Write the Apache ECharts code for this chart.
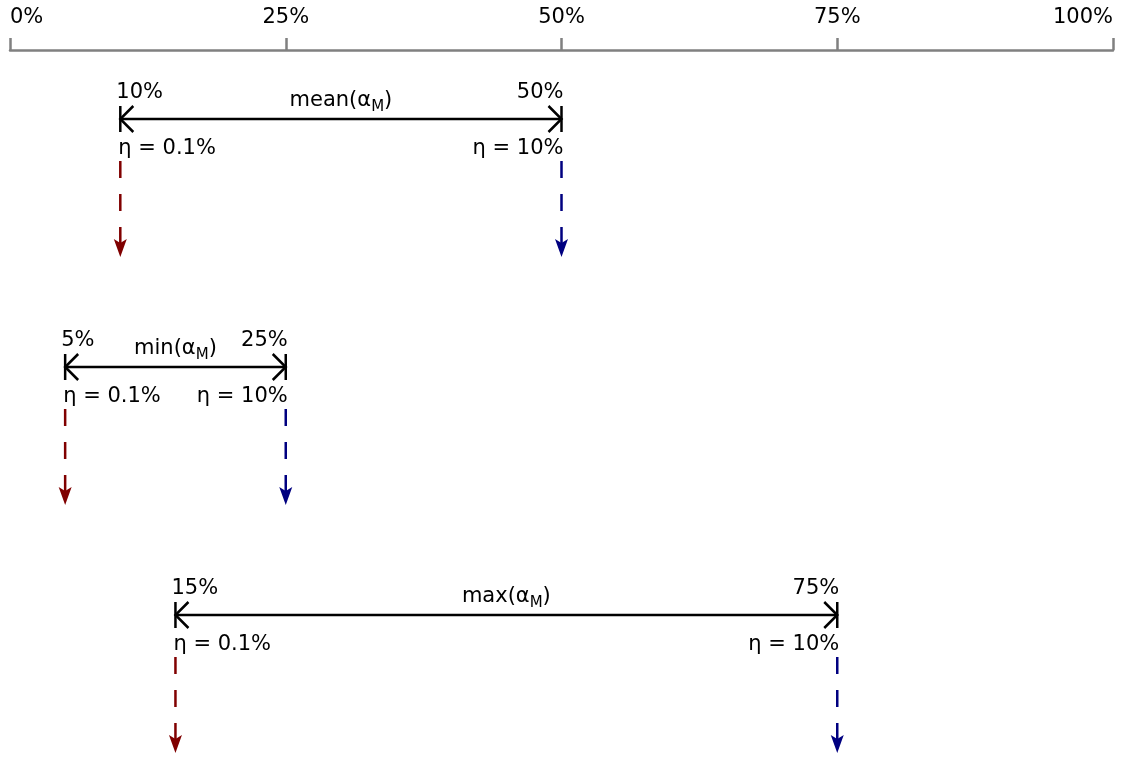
<!DOCTYPE html>
<html><head><meta charset="utf-8">
<script src="https://cdn.jsdelivr.net/npm/echarts@6/dist/echarts.min.js"></script>
<style>html,body{margin:0;padding:0;background:#fff}#c{width:1123px;height:757px}</style>
</head><body><div id="c"></div>
<script>
// ---- data ----
const statistics = ['mean', 'min', 'max'];          // statistic of α_M
const lowValues = [10, 5, 15];                      // at η = 0.1%
const highValues = [50, 25, 75];                    // at η = 10%
const etaLowLabel = 'η = 0.1%';
const etaHighLabel = 'η = 10%';
const axisMin = 0, axisMax = 100, axisStep = 25;

const FONT = '"DejaVu Sans", "Noto Sans", sans-serif';
const FS = 21;
const rows = statistics.map((s, i) => [lowValues[i], highValues[i], i]);

function renderItem(params, api) {
  const row = api.value(2);
  const lo = api.value(0), hi = api.value(1);
  const p0 = api.coord([lo, row]);
  const p1 = api.coord([hi, row]);
  const y = p0[1], x0 = p0[0], x1 = p1[0];
  const black = { stroke: '#000', lineWidth: 2.5, fill: null };
  const c = [];
  c.push({ type: 'line', shape: { x1: x0, y1: y, x2: x1, y2: y }, style: black });
  c.push({ type: 'line', shape: { x1: x0, y1: y - 13, x2: x0, y2: y + 13 }, style: black });
  c.push({ type: 'line', shape: { x1: x1, y1: y - 13, x2: x1, y2: y + 13 }, style: black });
  c.push({ type: 'polyline', shape: { points: [[x0 + 13, y - 13], [x0, y], [x0 + 13, y + 13]] }, style: black });
  c.push({ type: 'polyline', shape: { points: [[x1 - 13, y - 13], [x1, y], [x1 - 13, y + 13]] }, style: black });
  const txt = (x, yy, text, align) => ({
    type: 'text', x: x, y: yy,
    style: { text: text, fill: '#000', fontSize: FS, fontFamily: FONT, align: align, verticalAlign: 'middle' }
  });
  c.push(txt(x0 - 4, y - 26, lo + '%', 'left'));
  c.push(txt(x1 + 2, y - 26, hi + '%', 'right'));
  c.push(txt(x0 - 2, y + 30, etaLowLabel, 'left'));
  c.push(txt(x1 + 2, y + 30, etaHighLabel, 'right'));
  c.push({
    type: 'text', x: (x0 + x1) / 2, y: y - 18,
    style: {
      text: '{n|' + statistics[row] + '(α}{s|M}{n|)}',
      align: 'center', verticalAlign: 'middle', fill: '#000',
      rich: {
        n: { fontSize: FS, fontFamily: FONT, fill: '#000' },
        s: { fontSize: 15, fontFamily: FONT, fill: '#000', verticalAlign: 'bottom', padding: [0, 0, -3, 0] }
      }
    }
  });
  [[x0, '#800000'], [x1, '#000080']].forEach(([x, col]) => {
    c.push({ type: 'line', shape: { x1: x, y1: y + 42, x2: x, y2: y + 126 },
      style: { stroke: col, lineWidth: 2.5, lineDash: [17, 16] } });
    c.push({ type: 'polygon', shape: { points: [[x, y + 138], [x - 6.5, y + 120], [x, y + 124], [x + 6.5, y + 120]] },
      style: { fill: col } });
  });
  return { type: 'group', children: c };
}

const chart = echarts.init(document.getElementById('c'), null, { renderer: 'canvas' });
chart.setOption({
  animation: false,
  backgroundColor: '#fff',
  grid: [
    { left: 10, right: 10, top: 50, height: 10 },
    { left: 10, right: 10, top: 119, height: 496 }
  ],
  xAxis: [
    {
      gridIndex: 0, type: 'value', position: 'top', min: axisMin, max: axisMax, interval: axisStep,
      axisLine: { show: true, onZero: false, lineStyle: { color: '#808080', width: 2.5 } },
      axisTick: { show: true, length: 12, lineStyle: { color: '#808080', width: 2.5 } },
      splitLine: { show: false },
      axisLabel: { formatter: '{value}%', color: '#000', fontSize: FS, fontFamily: FONT, margin: 22,
        alignMinLabel: 'left', alignMaxLabel: 'right', showMinLabel: true, showMaxLabel: true }
    },
    { gridIndex: 1, type: 'value', min: axisMin, max: axisMax, show: false }
  ],
  yAxis: [
    { gridIndex: 0, type: 'value', show: false },
    { gridIndex: 1, type: 'category', data: statistics, inverse: true, boundaryGap: false, show: false }
  ],
  series: [{
    type: 'custom', xAxisIndex: 1, yAxisIndex: 1,
    renderItem: renderItem, data: rows, clip: false
  }]
});
</script>
</body></html>
